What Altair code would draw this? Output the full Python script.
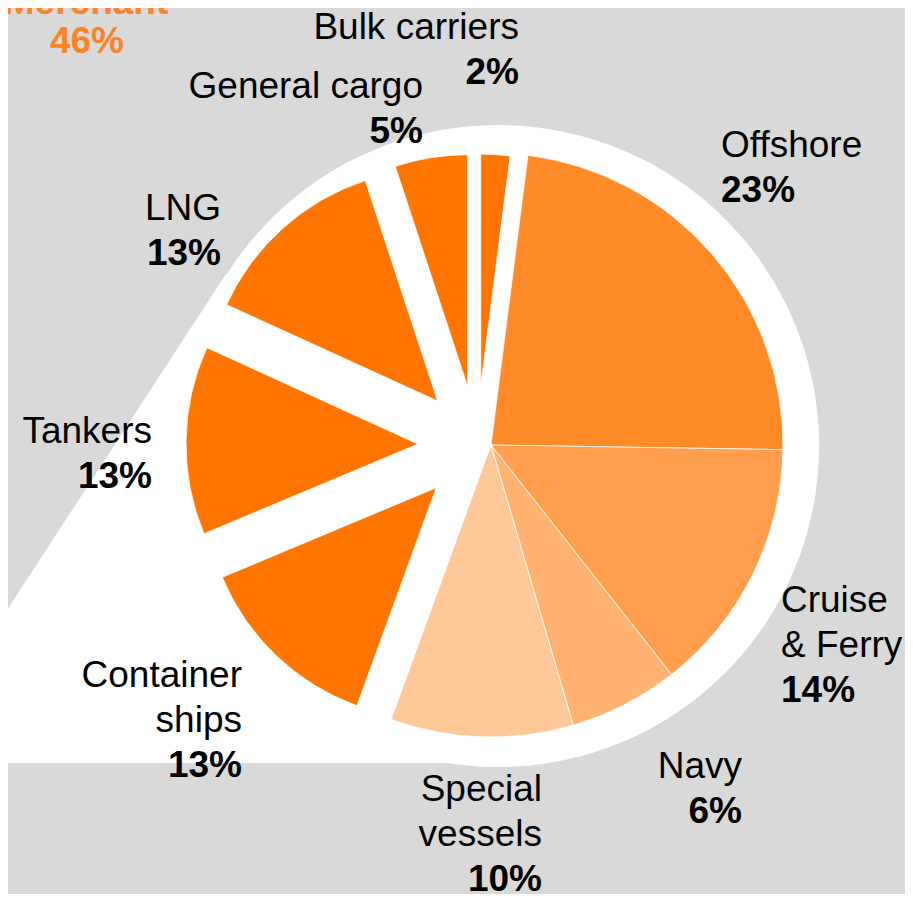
import math
import altair as alt
import pandas as pd

# ---- data ----
categories = ["Bulk carriers", "Offshore", "Cruise & Ferry", "Navy", "Special vessels",
              "Container ships", "Tankers", "LNG", "General cargo"]
shares = [2, 23, 14, 6, 10, 13, 13, 13, 5]
groups = ["Merchant", "Other", "Other", "Other", "Other",
          "Merchant", "Merchant", "Merchant", "Merchant"]
label_text = ["Bulk carriers", "Offshore", "Cruise\n& Ferry", "Navy", "Special\nvessels",
              "Container\nships", "Tankers", "LNG", "General cargo"]
group_title = "Merchant"

# ---- styles / layout ----
colors = ["#FF7500", "#FF8A28", "#FF9E4C", "#FFB272", "#FFC899",
          "#FF7500", "#FF7500", "#FF7500", "#FF7500"]
TITLE_COLOR = "#FF8324"
BG = "#D9D9D9"
FONT = "Liberation Sans"
FS = 37
LH = 45
W, H = 897, 886
CX, CY, R = 483, 437, 292          # main pie
M_SHIFT_X, M_EXPLODE, M_R = -14, 59, 232   # exploded merchant slices
# label anchors (x, name baseline y, align) in plot pixels
label_anchor = {
    "Bulk carriers": (511, 31, "right"),
    "Offshore": (713, 149, "left"),
    "Cruise & Ferry": (773, 604, "left"),
    "Navy": (734, 770, "right"),
    "Special vessels": (534, 793, "right"),
    "Container ships": (234, 679, "right"),
    "Tankers": (144, 435, "right"),
    "LNG": (213, 212, "right"),
    "General cargo": (415, 90, "right"),
}

df = pd.DataFrame({
    "order": list(range(len(categories))),
    "category": categories,
    "share": shares,
    "group": groups,
    "label": label_text,
})
df["lx"] = [label_anchor[c][0] for c in categories]
df["ly"] = [label_anchor[c][1] for c in categories]
df["align"] = [label_anchor[c][2] for c in categories]
df["py"] = df["ly"] + LH * df["label"].str.count("\n").add(1)

color = alt.Color("category:N", scale=alt.Scale(domain=categories, range=colors), legend=None)

base = (
    alt.Chart(df)
    .transform_window(cum="sum(share)", sort=[alt.SortField("order")], frame=[None, 0])
    .transform_joinaggregate(total="sum(share)")
    .transform_calculate(
        t0="(datum.cum - datum.share) / datum.total * 2 * PI",
        t1="datum.cum / datum.total * 2 * PI",
    )
    .transform_calculate(tm="(datum.t0 + datum.t1) / 2")
)

# white backdrop: circle + callout wedge toward the merchant label
backdrop_circle = alt.Chart(pd.DataFrame({"k": [0]})).mark_arc(
    theta=0, theta2=2 * math.pi, radius=321, x=490, y=438
).encode(color=alt.value("white"))

wedge_df = pd.DataFrame({"x": [-18, 218, 512], "y": [628, 266, 266], "y2": [755, 755, 755]})
backdrop_wedge = alt.Chart(wedge_df).mark_area(color="white").encode(
    x=alt.X("x:Q", scale=None, axis=None),
    y=alt.Y("y:Q", scale=None, axis=None, stack=None),
    y2="y2:Q",
)

other = base.transform_filter("datum.group != 'Merchant'").mark_arc(
    radius=R, x=CX, y=CY, stroke="white", strokeWidth=0.8
).encode(
    theta=alt.Theta("t0:Q", scale=None),
    theta2=alt.Theta2("t1:Q"),
    color=color,
)

merchant = base.transform_filter("datum.group == 'Merchant'").transform_calculate(
    mx=f"{CX + M_SHIFT_X} + {M_EXPLODE} * sin(datum.tm)",
    my=f"{CY} - {M_EXPLODE} * cos(datum.tm)",
).mark_arc(radius=M_R, stroke="white", strokeWidth=0.8).encode(
    x=alt.X("mx:Q", scale=None, axis=None),
    y=alt.Y("my:Q", scale=None, axis=None),
    theta=alt.Theta("t0:Q", scale=None),
    theta2=alt.Theta2("t1:Q"),
    color=color,
)

def name_layer(al):
    return alt.Chart(df).transform_filter(f"datum.align == '{al}'").mark_text(
        align=al, baseline="alphabetic", font=FONT, fontSize=FS, lineHeight=LH,
        lineBreak="\n", color="black"
    ).encode(
        x=alt.X("lx:Q", scale=None, axis=None),
        y=alt.Y("ly:Q", scale=None, axis=None),
        text="label:N",
    )

def pct_layer(al):
    return alt.Chart(df).transform_filter(f"datum.align == '{al}'").transform_calculate(
        pct="datum.share + '%'"
    ).mark_text(
        align=al, baseline="alphabetic", font=FONT, fontSize=FS, fontWeight="bold", color="black"
    ).encode(
        x=alt.X("lx:Q", scale=None, axis=None),
        y=alt.Y("py:Q", scale=None, axis=None),
        text="pct:N",
    )

merchant_pct = alt.Chart(df).transform_filter("datum.group == 'Merchant'").transform_aggregate(
    total="sum(share)"
).transform_calculate(pct="datum.total + '%'").mark_text(
    align="center", baseline="alphabetic", font=FONT, fontSize=FS, fontWeight="bold",
    color=TITLE_COLOR, x=79, y=45
).encode(text="pct:N")

merchant_title = alt.Chart(pd.DataFrame({"t": [group_title]})).mark_text(
    align="center", baseline="alphabetic", font=FONT, fontSize=FS, fontWeight="bold",
    color=TITLE_COLOR, x=78, y=6
).encode(text="t:N")

chart = alt.layer(
    backdrop_wedge, backdrop_circle, other, merchant,
    name_layer("right"), name_layer("left"), pct_layer("right"), pct_layer("left"),
    merchant_title, merchant_pct,
).properties(
    width=W, height=H, background=BG, padding=0,
    autosize=alt.AutoSizeParams(type="none"),
).configure_view(strokeWidth=0)

chart.save("out.html", embed_options={"renderer": "svg", "actions": False})
